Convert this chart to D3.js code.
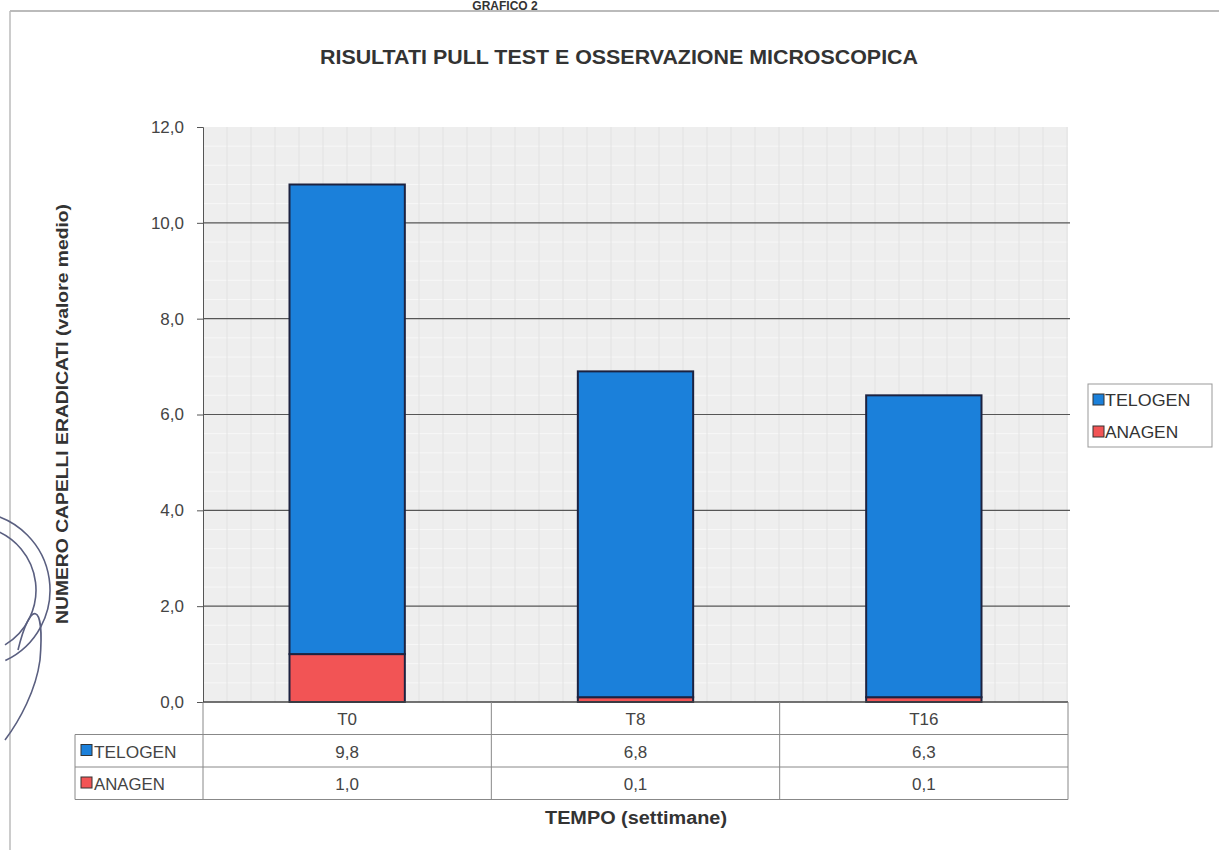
<!DOCTYPE html>
<html lang="en">
<head>
<meta charset="utf-8">
<title>Risultati pull test</title>
<script src="https://d3js.org/d3.v7.min.js"></script>
<style>
	body { margin: 0; background: #fff; }
	svg { font-family: Arial, "Liberation Sans", sans-serif; }
</style>
</head>
<body>
<div id="chart"></div>
<script>
// data
var categories = ["T0", "T8", "T16"];
var telogen = [9.8, 6.8, 6.3];
var anagen = [1.0, 0.1, 0.1];
var seriesNames = ["TELOGEN", "ANAGEN"];
var yTicks = [0, 2, 4, 6, 8, 10, 12];

var W = 1219, H = 856;
var colors = { TELOGEN: "#1b80da", ANAGEN: "#f25455" };
var m = { left: 203, right: 1068, top: 127, bottom: 702 };
var fmt = function(d) { return d3.format(".1f")(d).replace(".", ","); };

var svg = d3.select("#chart").append("svg")
	.attr("width", W).attr("height", H);

// page frame (scanned page edge)
svg.append("line").attr("x1", 10).attr("x2", W).attr("y1", 11).attr("y2", 11)
	.attr("stroke", "#bbb").attr("stroke-width", 2);
svg.append("line").attr("x1", 10).attr("x2", 10).attr("y1", 11).attr("y2", 850)
	.attr("stroke", "#bbb").attr("stroke-width", 1.5);

// stamp in the margin (just a few arcs)
var stamp = svg.append("g").attr("fill", "none").attr("stroke", "#5a5f80").attr("stroke-width", 1.6);
stamp.append("path").attr("d", d3.arc()({ innerRadius: 78, outerRadius: 78, startAngle: 0.15, endAngle: 2.7 }))
	.attr("transform", "translate(-28,590)");
stamp.append("path").attr("d", d3.arc()({ innerRadius: 64, outerRadius: 64, startAngle: 0.3, endAngle: 2.6 }))
	.attr("transform", "translate(-28,590)");
stamp.append("path").attr("d", "M18,650 C30,600 45,600 40,660 C36,690 20,720 5,740");

svg.append("text").attr("x", 505).attr("y", 10).attr("text-anchor", "middle")
	.attr("font-size", 12).attr("font-weight", "bold").attr("fill", "#333")
	.text("GRAFICO 2");

svg.append("text").attr("x", 619).attr("y", 64).attr("text-anchor", "middle")
	.attr("font-size", 20).attr("font-weight", "bold").attr("fill", "#333")
	.attr("textLength", 598).attr("lengthAdjust", "spacingAndGlyphs")
	.text("RISULTATI PULL TEST E OSSERVAZIONE MICROSCOPICA");

var x = d3.scaleBand().domain(categories).range([m.left, m.right]).paddingInner(0).paddingOuter(0);
var y = d3.scaleLinear().domain([0, 12]).range([m.bottom, m.top]);

// plot area
svg.append("rect").attr("x", m.left).attr("y", m.top)
	.attr("width", m.right - m.left).attr("height", m.bottom - m.top)
	.attr("fill", "#eeeeee");

// faint scan texture (minor grid)
svg.append("g").selectAll("line").data(d3.range(0, 12, 0.4)).join("line")
	.attr("x1", m.left).attr("x2", m.right)
	.attr("y1", d => y(d)).attr("y2", d => y(d))
	.attr("stroke", "#f7f7f7").attr("stroke-width", 1);
svg.append("g").selectAll("line").data(d3.range(m.left + 24, m.right, 24)).join("line")
	.attr("x1", d => d).attr("x2", d => d)
	.attr("y1", m.top).attr("y2", m.bottom)
	.attr("stroke", "#e2e2e2").attr("stroke-width", 1);

// major gridlines + y axis
var yAxis = d3.axisLeft(y).tickValues(yTicks).tickSize(6).tickFormat(fmt);
var gy = svg.append("g").attr("transform", "translate(" + m.left + ",0)").call(yAxis);
gy.select(".domain").attr("stroke", "#555");
gy.selectAll(".tick line").attr("stroke", "#555");
gy.selectAll(".tick text").attr("font-size", 17).attr("fill", "#444").attr("dx", -10)
	.attr("font-family", "Arial, 'Liberation Sans', sans-serif");

svg.append("g").selectAll("line").data(yTicks.filter(d => d > 0 && d < 12)).join("line")
	.attr("x1", m.left).attr("x2", m.right + 2)
	.attr("y1", d => y(d)).attr("y2", d => y(d))
	.attr("stroke", "#555").attr("stroke-width", 1.2);

// stacked bars
var rows = categories.map(function(c, i) { return { cat: c, TELOGEN: telogen[i], ANAGEN: anagen[i] }; });
var stack = d3.stack().keys(["ANAGEN", "TELOGEN"])(rows);
var bw = x.bandwidth() * 0.4;
svg.append("g").selectAll("g").data(stack).join("g")
	.attr("fill", d => colors[d.key])
	.selectAll("rect").data(d => d).join("rect")
	.attr("x", d => x(d.data.cat) + (x.bandwidth() - bw) / 2)
	.attr("width", bw)
	.attr("y", d => y(d[1]))
	.attr("height", d => y(d[0]) - y(d[1]))
	.attr("stroke", "#1c2240").attr("stroke-width", 2);

// x baseline
svg.append("line").attr("x1", m.left).attr("x2", m.right)
	.attr("y1", m.bottom).attr("y2", m.bottom)
	.attr("stroke", "#444").attr("stroke-width", 1.5);

// data table
var tblLeft = 75, rowH = 32.5;
var tbl = svg.append("g").attr("stroke", "#888").attr("stroke-width", 1);
var rowTop = [m.bottom, m.bottom + rowH, m.bottom + 2 * rowH, m.bottom + 3 * rowH];
[1, 2, 3].forEach(function(r) {
	tbl.append("line").attr("x1", tblLeft).attr("x2", m.right).attr("y1", rowTop[r]).attr("y2", rowTop[r]);
});
tbl.append("line").attr("x1", tblLeft).attr("x2", tblLeft).attr("y1", rowTop[1]).attr("y2", rowTop[3]);
tbl.selectAll(".v").data(categories).join("line")
	.attr("x1", d => x(d) + x.bandwidth()).attr("x2", d => x(d) + x.bandwidth())
	.attr("y1", m.bottom).attr("y2", rowTop[3]);
tbl.append("line").attr("x1", m.left).attr("x2", m.left).attr("y1", m.bottom).attr("y2", rowTop[3]);

svg.append("g").selectAll("text").data(categories).join("text")
	.attr("x", d => x(d) + x.bandwidth() / 2).attr("y", rowTop[0] + 23)
	.attr("text-anchor", "middle").attr("font-size", 17).attr("fill", "#444")
	.text(d => d);

var tableSeries = [telogen, anagen];
seriesNames.forEach(function(name, r) {
	var ty = rowTop[r + 1] + 23;
	svg.append("rect").attr("x", tblLeft + 6).attr("y", ty - 13).attr("width", 11).attr("height", 11)
		.attr("fill", colors[name]).attr("stroke", "#333").attr("stroke-width", 1);
	svg.append("text").attr("x", tblLeft + 19).attr("y", ty)
		.attr("font-size", 17).attr("fill", "#444")
		.attr("textLength", name.length * 11.8).attr("lengthAdjust", "spacingAndGlyphs")
		.text(name);
	svg.append("g").selectAll("text").data(tableSeries[r]).join("text")
		.attr("x", (d, i) => x(categories[i]) + x.bandwidth() / 2).attr("y", ty)
		.attr("text-anchor", "middle").attr("font-size", 17).attr("fill", "#444")
		.text(fmt);
});

// axis titles
svg.append("text").attr("x", 636).attr("y", 824).attr("text-anchor", "middle")
	.attr("font-size", 18).attr("font-weight", "bold").attr("fill", "#333")
	.attr("textLength", 182).attr("lengthAdjust", "spacingAndGlyphs")
	.text("TEMPO (settimane)");
svg.append("text").attr("transform", "translate(68,414) rotate(-90)")
	.attr("text-anchor", "middle").attr("font-size", 17).attr("font-weight", "bold").attr("fill", "#333")
	.attr("textLength", 420).attr("lengthAdjust", "spacingAndGlyphs")
	.text("NUMERO CAPELLI ERADICATI (valore medio)");

// legend
var lg = svg.append("g").attr("transform", "translate(1088,384)");
lg.append("rect").attr("width", 124).attr("height", 63)
	.attr("fill", "#fff").attr("stroke", "#999");
seriesNames.forEach(function(name, i) {
	lg.append("rect").attr("x", 5).attr("y", 10 + i * 32).attr("width", 11).attr("height", 11)
		.attr("fill", colors[name]).attr("stroke", "#333");
	lg.append("text").attr("x", 17).attr("y", 22 + i * 32)
		.attr("font-size", 17).attr("fill", "#333")
		.attr("textLength", name.length * 12.2).attr("lengthAdjust", "spacingAndGlyphs")
		.text(name);
});
</script>
</body>
</html>
